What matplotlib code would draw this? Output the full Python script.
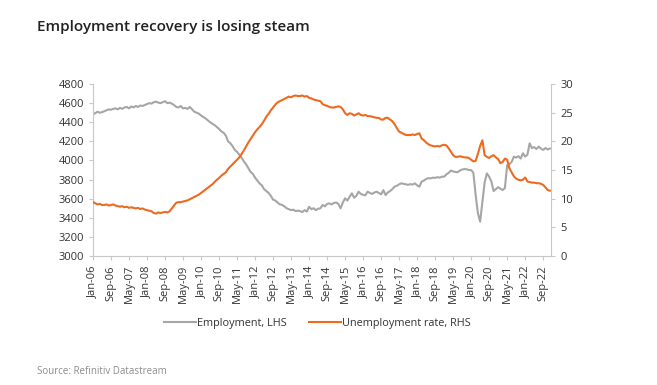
import pandas as pd
import matplotlib.pyplot as plt

# Monthly data, Jan 2006 - Dec 2022
dates = pd.date_range('2006-01-01', periods=204, freq='MS')

# Employment (thousands), left axis
employment = [
    4485, 4495, 4510, 4500, 4505, 4515, 4525, 4535, 4530, 4540, 4545, 4535,  # 2006
    4550, 4540, 4555, 4560, 4545, 4565, 4555, 4570, 4560, 4575, 4570, 4580,  # 2007
    4590, 4600, 4595, 4610, 4615, 4605, 4600, 4610, 4620, 4600, 4605, 4595,  # 2008
    4580, 4560, 4555, 4570, 4545, 4550, 4540, 4560, 4535, 4510, 4500, 4490,  # 2009
    4470, 4455, 4440, 4420, 4400, 4385, 4370, 4350, 4330, 4305, 4290, 4260,  # 2010
    4200, 4180, 4150, 4110, 4090, 4060, 4030, 3990, 3960, 3920, 3880, 3860,  # 2011
    3820, 3790, 3760, 3740, 3700, 3680, 3660, 3630, 3590, 3580, 3560, 3540,  # 2012
    3535, 3520, 3500, 3490, 3480, 3485, 3470, 3475, 3470, 3460, 3480, 3465,  # 2013
    3515, 3490, 3500, 3480, 3495, 3499, 3534, 3520, 3545, 3551, 3540, 3555,  # 2014
    3560, 3545, 3499, 3560, 3604, 3580, 3620, 3656, 3610, 3630, 3673, 3650,  # 2015
    3640, 3635, 3673, 3660, 3650, 3665, 3673, 3660, 3645, 3690, 3638, 3665,  # 2016
    3680, 3700, 3726, 3735, 3750, 3761, 3755, 3750, 3745, 3752, 3748, 3760,  # 2017
    3740, 3726, 3778, 3790, 3806, 3815, 3812, 3820, 3818, 3825, 3820, 3830,  # 2018
    3830, 3855, 3870, 3894, 3885, 3880, 3877, 3895, 3905, 3910, 3908, 3900,  # 2019
    3900, 3870, 3640, 3450, 3359, 3560, 3770, 3865, 3830, 3780, 3680, 3700,  # 2020
    3720, 3705, 3690, 3710, 3950, 3960, 3985, 4040, 4030, 4045, 4020, 4075,  # 2021
    4040, 4060, 4179, 4130, 4140, 4120, 4145, 4125, 4110, 4130, 4115, 4125,  # 2022
]

# Unemployment rate (%), right axis
unemployment = [
    9.4, 9.2, 9.0, 9.1, 8.9, 8.9, 9.0, 8.8, 8.9, 9.0, 8.8, 8.7,  # 2006
    8.6, 8.7, 8.5, 8.6, 8.4, 8.5, 8.4, 8.3, 8.4, 8.2, 8.3, 8.1,  # 2007
    8.0, 7.9, 7.8, 7.5, 7.4, 7.6, 7.5, 7.6, 7.7, 7.6, 7.8, 8.3,  # 2008
    8.8, 9.3, 9.4, 9.4, 9.5, 9.6, 9.7, 9.9, 10.1, 10.3, 10.5, 10.7,  # 2009
    11.0, 11.3, 11.6, 11.9, 12.2, 12.5, 12.9, 13.3, 13.6, 14.0, 14.3, 14.6,  # 2010
    15.2, 15.6, 16.0, 16.4, 16.8, 17.2, 17.8, 18.4, 19.1, 19.8, 20.4, 21.0,  # 2011
    21.6, 22.1, 22.5, 23.0, 23.6, 24.3, 24.8, 25.4, 25.9, 26.4, 26.8, 27.0,  # 2012
    27.2, 27.4, 27.6, 27.8, 27.7, 27.9, 28.0, 27.9, 27.9, 28.0, 27.8, 27.9,  # 2013
    27.6, 27.5, 27.3, 27.2, 27.1, 27.0, 26.5, 26.3, 26.2, 26.0, 25.9, 25.9,  # 2014
    26.0, 26.1, 26.0, 25.6, 24.9, 24.6, 24.9, 24.8, 24.5, 24.7, 24.9, 24.6,  # 2015
    24.5, 24.6, 24.4, 24.4, 24.3, 24.2, 24.1, 24.1, 23.8, 23.8, 24.1, 24.1,  # 2016
    23.8, 23.5, 23.0, 22.3, 21.7, 21.5, 21.3, 21.1, 21.1, 21.1, 21.2, 21.1,  # 2017
    21.3, 21.4, 20.5, 20.2, 19.8, 19.5, 19.3, 19.2, 19.1, 19.2, 19.1, 19.3,  # 2018
    19.4, 19.3, 18.8, 18.2, 17.6, 17.3, 17.3, 17.4, 17.3, 17.2, 17.2, 17.1,  # 2019
    16.8, 16.5, 16.6, 17.8, 19.2, 20.2, 17.6, 17.3, 17.1, 17.4, 17.6, 17.2,  # 2020
    16.9, 16.2, 16.4, 17.0, 16.8, 15.3, 14.6, 13.9, 13.5, 13.3, 13.2, 13.3,  # 2021
    13.7, 13.0, 12.9, 12.8, 12.8, 12.7, 12.7, 12.6, 12.4, 12.0, 11.5, 11.4,  # 2022
]

x = list(range(len(dates)))
tick_pos = x[::8]
tick_labels = [d.strftime('%b-%y') for d in dates[::8]]

gray = '#A6A6A6'
orange = '#EE6A1F'
axis_col = '#C8C8C8'
text_col = '#333333'

plt.rcParams['font.family'] = ['Open Sans', 'DejaVu Sans']

fig = plt.figure(figsize=(6.57, 3.85), dpi=100)
ax = fig.add_axes([0.1416, 0.335, 0.6971, 0.4468])
ax2 = ax.twinx()

l1, = ax.plot(x, employment, color=gray, lw=1.5, label='Employment, LHS')
l2, = ax2.plot(x, unemployment, color=orange, lw=1.5, label='Unemployment rate, RHS')

ax.set_xlim(0, 203.5)
ax.set_ylim(3000, 4800)
ax.set_yticks(range(3000, 4801, 200))
ax2.set_ylim(0, 30)
ax2.set_yticks(range(0, 31, 5))
ax.set_xticks(tick_pos)
ax.set_xticklabels(tick_labels, rotation=90)

for a in (ax, ax2):
    a.spines['top'].set_visible(False)
    for s in ('left', 'right', 'bottom'):
        a.spines[s].set_color(axis_col)
    a.tick_params(colors=axis_col, labelcolor=text_col, labelsize=8, length=3)
ax.spines['right'].set_visible(False)
ax2.spines['left'].set_visible(False)
ax2.spines['bottom'].set_visible(False)

fig.legend(handles=[l1, l2], loc='center', bbox_to_anchor=(0.483, 0.161), ncol=2,
           frameon=False, fontsize=7.8, handlelength=3.0, handletextpad=0.1,
           columnspacing=2.0, labelcolor=text_col)

fig.text(0.056, 0.93, 'Employment recovery is losing steam', fontsize=11,
         fontweight='semibold', color='#222222', va='center')
fig.text(0.056, 0.036, 'Source: Refinitiv Datastream', fontsize=7,
         color='#8C8C8C', va='center')

plt.savefig('out.png', dpi=100)
